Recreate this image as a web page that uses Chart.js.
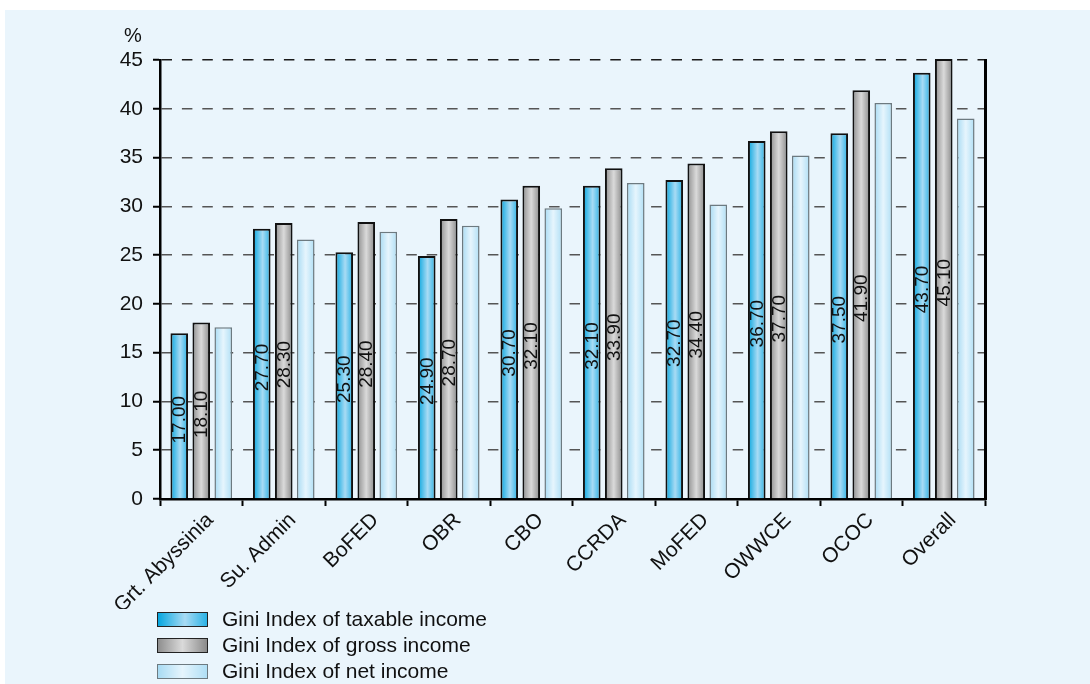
<!DOCTYPE html>
<html>
<head>
<meta charset="utf-8">
<title>Gini Index by organisation</title>
<script src="https://cdn.jsdelivr.net/npm/chart.js@4.4.1/dist/chart.umd.min.js"></script>
<style>
  html, body { margin: 0; padding: 0; background: #fff; }
  #panel { position: absolute; left: 5px; top: 10px; width: 1085px; height: 674px; background: #eaf5fc; overflow: hidden; }
  #chartBox { position: absolute; left: 0; top: 0; width: 1085px; height: 674px; }
  #legend { position: absolute; left: 152px; top: 596px; font: 21px "Liberation Sans", Arial, sans-serif; color: #111; }
  .item { display: flex; align-items: center; height: 26px; }
  .swatch { width: 49px; height: 13px; border: 1.5px solid #111; margin-right: 14px; }
</style>
</head>
<body>
<div id="panel">
  <div id="chartBox"><canvas id="giniChart"></canvas></div>
  <div id="legend"></div>
</div>
<script>
// Gini index per organisation
const categories = ['Grt. Abyssinia', 'Su. Admin', 'BoFED', 'OBR', 'CBO', 'CCRDA', 'MoFED', 'OWWCE', 'OCOC', 'Overall'];
const taxableIncome = [17.00, 27.70, 25.30, 24.90, 30.70, 32.10, 32.70, 36.70, 37.50, 43.70];
const grossIncome = [18.10, 28.30, 28.40, 28.70, 32.10, 33.90, 34.40, 37.70, 41.90, 45.10];
const netIncome = [17.6, 26.6, 27.4, 28.0, 29.8, 32.4, 30.2, 35.2, 40.6, 39.0];
const yTicks = [0, 5, 10, 15, 20, 25, 30, 35, 40, 45];

const FONT = '"Liberation Sans", Arial, sans-serif';

// horizontal shading stops for each series (cylinder look)
const taxableShade = [[0, '#06a6df'], [0.55, '#a8dbf4'], [1, '#2ab2e5']];
const grossShade = [[0, '#8e8e8e'], [0.5, '#dadada'], [1, '#8a8a8a']];
const netShade = [[0, '#a8dbf3'], [0.5, '#e6f5fd'], [1, '#b0dff5']];

const series = [
  { label: 'Gini Index of taxable income', data: taxableIncome, shade: taxableShade, border: '#111', bw: 2 },
  { label: 'Gini Index of gross income', data: grossIncome, shade: grossShade, border: '#111', bw: 2 },
  { label: 'Gini Index of net income', data: netIncome, shade: netShade, border: '#6d7a80', bw: 1.5 }
];

// paint each bar with its own left-to-right gradient
const barShading = {
  id: 'barShading',
  beforeDatasetsDraw(chart) {
    const ctx = chart.ctx;
    series.forEach((s, di) => {
      chart.getDatasetMeta(di).data.forEach(bar => {
        const { x, width } = bar.getProps(['x', 'width'], true);
        const g = ctx.createLinearGradient(x - width / 2, 0, x + width / 2, 0);
        s.shade.forEach(([o, c]) => g.addColorStop(o, c));
        bar.options = Object.assign({}, bar.options, { backgroundColor: g });
      });
    });
  }
};

// vertical value labels inside taxable and gross bars
const valueLabels = {
  id: 'valueLabels',
  afterDatasetsDraw(chart) {
    const ctx = chart.ctx;
    ctx.save();
    ctx.font = '19px ' + FONT;
    ctx.fillStyle = '#111';
    ctx.textAlign = 'center';
    ctx.textBaseline = 'middle';
    [0, 1].forEach(di => {
      const values = chart.data.datasets[di].data;
      chart.getDatasetMeta(di).data.forEach((bar, i) => {
        const { x, y, base } = bar.getProps(['x', 'y', 'base'], true);
        ctx.save();
        ctx.translate(x + 1, (y + base) / 2 + 4);
        ctx.rotate(-Math.PI / 2);
        ctx.fillText(values[i].toFixed(2), 0, 0);
        ctx.restore();
      });
    });
    ctx.restore();
  }
};

// unit mark above the value axis
const unitMark = {
  id: 'unitMark',
  afterDraw(chart) {
    const { ctx, chartArea } = chart;
    ctx.save();
    ctx.font = '20px ' + FONT;
    ctx.fillStyle = '#111';
    ctx.textAlign = 'center';
    ctx.textBaseline = 'middle';
    ctx.fillText('%', chartArea.left - 27, chartArea.top - 24);
    ctx.restore();
  }
};

new Chart(document.getElementById('giniChart'), {
  type: 'bar',
  data: {
    labels: categories,
    datasets: series.map(s => ({
      label: s.label,
      data: s.data,
      backgroundColor: s.shade[1][1],
      borderColor: s.border,
      borderWidth: s.bw,
      categoryPercentage: 0.8,
      barPercentage: 0.8,
      clip: 6
    }))
  },
  options: {
    responsive: true,
    maintainAspectRatio: false,
    animation: false,
    layout: { padding: { top: 50, right: 105, bottom: 75, left: 0 } },
    plugins: {
      legend: { display: false },
      tooltip: { enabled: false }
    },
    scales: {
      x: {
        grid: { offset: true, drawOnChartArea: false, tickLength: 7, tickColor: '#000', tickWidth: 2, color: '#000' },
        border: { color: '#000', width: 2.5 },
        ticks: { autoSkip: false, minRotation: 45, maxRotation: 45, padding: 2, labelOffset: 9, color: '#111', font: { family: FONT, size: 21 } },
        afterFit(scale) { scale.height = 110; }
      },
      y: {
        min: 0,
        max: 45,
        afterBuildTicks(scale) { scale.ticks = yTicks.map(v => ({ value: v })); },
        ticks: { padding: 10, color: '#111', font: { family: FONT, size: 21 } },
        grid: {
          color: c => (c.tick && c.tick.value === 45 ? '#1a1a1a' : '#555'),
          lineWidth: 1.5,
          tickLength: 7,
          tickColor: '#000',
          tickWidth: 2,
          tickBorderDash: []
        },
        border: { color: '#000', width: 2.5, dash: [10.5, 9.9] },
        afterFit(scale) { scale.width = 155; }
      },
      yRight: {
        position: 'right',
        min: 0,
        max: 45,
        ticks: { display: false },
        grid: { drawOnChartArea: false, drawTicks: false },
        border: { color: '#000', width: 3 },
        afterFit(scale) { scale.width = 0; }
      }
    }
  },
  plugins: [barShading, valueLabels, unitMark]
});

// legend with the same shading as the bars
const legend = document.getElementById('legend');
series.forEach(s => {
  const item = document.createElement('div');
  item.className = 'item';
  const sw = document.createElement('div');
  sw.className = 'swatch';
  sw.style.background = 'linear-gradient(to right, ' + s.shade.map(([o, c]) => c + ' ' + (o * 100) + '%').join(', ') + ')';
  sw.style.borderColor = s.border === '#111' ? '#222' : '#6d7a80';
  const txt = document.createElement('span');
  txt.textContent = s.label;
  item.appendChild(sw);
  item.appendChild(txt);
  legend.appendChild(item);
});
</script>
</body>
</html>
